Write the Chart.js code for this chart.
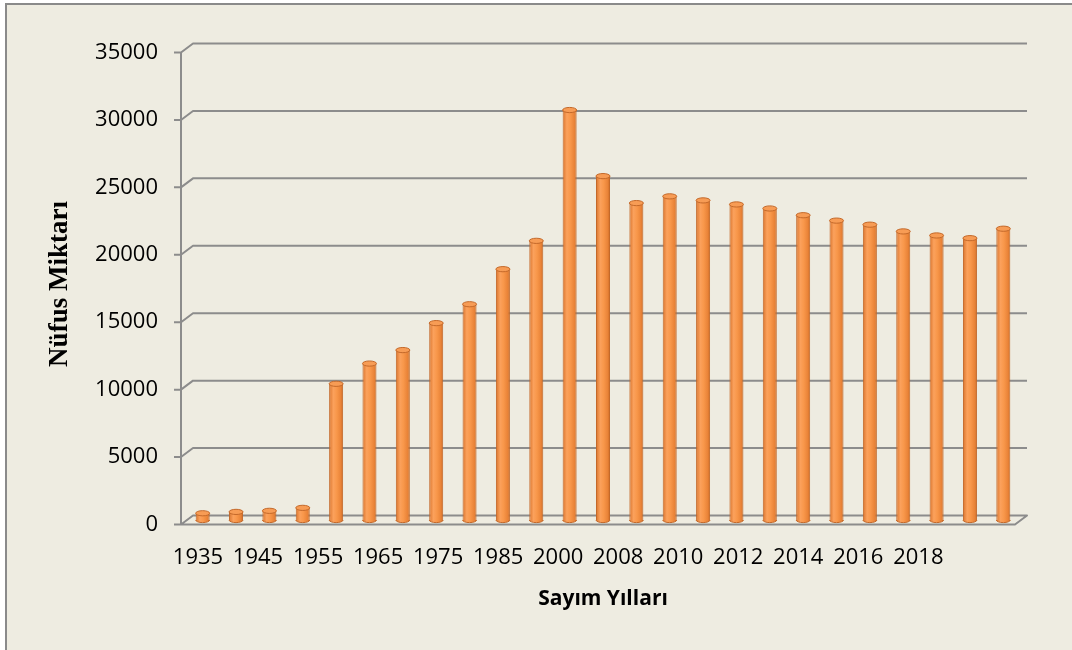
<!DOCTYPE html>
<html>
<head>
<meta charset="utf-8">
<script src="https://cdn.jsdelivr.net/npm/chart.js@4/dist/chart.umd.min.js"></script>
<style>
  html, body { margin: 0; padding: 0; background: #ffffff; }
  #wrap { width: 1072px; height: 650px; }
</style>
</head>
<body>
<div id="wrap"><canvas id="c" width="1072" height="650"></canvas></div>
<script>
// ---- data ----
const categories = ['1935','1940','1945','1950','1955','1960','1965','1970','1975','1980','1985','1990','2000',
                    '2007','2008','2009','2010','2011','2012','2013','2014','2015','2016','2017','2018'];
const populationValues = [500, 600, 680, 900, 10100, 11600, 12600, 14600, 16000, 18600, 20700, 30400, 25500,
                          23500, 24000, 23700, 23400, 23100, 22600, 22200, 21900, 21400, 21100, 20900, 21600];
const xTickLabels = ['1935','1945','1955','1965','1975','1985','2000','2008','2010','2012','2014','2016','2018'];
const yTickValues = [0, 5000, 10000, 15000, 20000, 25000, 30000, 35000];
const xTitle = 'Sayım Yılları';
const yTitle = 'Nüfus Miktarı';

const DEPTH_X = 6, DEPTH_Y = 4.5;
const GRID_COLOR = '#8c8c8c';

function makeGradient(ctx, x, half) {
  const g = ctx.createLinearGradient(x - half, 0, x + half, 0);
  g.addColorStop(0, '#D8732C');
  g.addColorStop(0.3, '#FBA15C');
  g.addColorStop(0.55, '#F8974A');
  g.addColorStop(0.85, '#E88237');
  g.addColorStop(1, '#C46620');
  return g;
}

function barGradient(context) {
  const chart = context.chart;
  if (!chart.chartArea || context.type !== 'data') return '#F79646';
  const xs = chart.scales.x;
  const x = xs.getPixelForValue(context.dataIndex);
  const w = xs.getPixelForValue(1) - xs.getPixelForValue(0);
  return makeGradient(chart.ctx, x, w * 0.42 / 2);
}

const bgPlugin = {
  id: 'bg',
  beforeDraw(chart) {
    const ctx = chart.ctx;
    ctx.save();
    ctx.fillStyle = '#ffffff';
    ctx.fillRect(0, 0, chart.width, chart.height);
    ctx.fillStyle = '#EEECE1';
    ctx.fillRect(6, 4, chart.width - 6, chart.height - 4);
    ctx.strokeStyle = '#8a8a8a';
    ctx.lineWidth = 2;
    ctx.beginPath();
    ctx.moveTo(6, chart.height);
    ctx.lineTo(6, 4);
    ctx.lineTo(chart.width, 4);
    ctx.stroke();
    ctx.restore();
  }
};

const framePlugin = {
  id: 'frame3d',
  beforeDatasetsDraw(chart) {
    const ctx = chart.ctx;
    const ys = chart.scales.y;
    const a = chart.chartArea;
    const fx = a.left - 5, bx = a.left + DEPTH_X + 1, rx = a.right + DEPTH_X + 1, ffx = a.right - 5;
    ctx.save();
    ctx.strokeStyle = GRID_COLOR;
    ctx.lineWidth = 2;
    ctx.lineJoin = 'round';
    const top = ys.getPixelForValue(ys.max), zero = ys.getPixelForValue(0);
    ctx.beginPath();
    ctx.moveTo(fx, top + DEPTH_Y);
    ctx.lineTo(fx, zero + DEPTH_Y);
    ctx.stroke();
    ys.ticks.forEach(t => {
      const py = ys.getPixelForValue(t.value);
      ctx.beginPath();
      ctx.moveTo(fx - 7, py + DEPTH_Y);
      ctx.lineTo(fx, py + DEPTH_Y);
      ctx.lineTo(bx, py - DEPTH_Y);
      ctx.lineTo(rx, py - DEPTH_Y);
      if (t.value === 0) {
        ctx.lineTo(ffx, py + DEPTH_Y);
        ctx.lineTo(fx, py + DEPTH_Y);
      }
      ctx.stroke();
    });
    ctx.restore();
  },
  afterDatasetsDraw(chart) {
    const ctx = chart.ctx;
    const meta = chart.getDatasetMeta(0);
    ctx.save();
    meta.data.forEach((bar) => {
      const p = bar.getProps(['x', 'y', 'base', 'width'], true);
      const rxx = p.width / 2, ry = 2.6;
      ctx.beginPath();
      ctx.ellipse(p.x, p.base, rxx, ry, 0, 0, Math.PI);
      ctx.fillStyle = makeGradient(ctx, p.x, rxx);
      ctx.fill();
      ctx.strokeStyle = '#C4692A';
      ctx.lineWidth = 1;
      ctx.stroke();
      ctx.beginPath();
      ctx.ellipse(p.x, p.y, rxx, ry, 0, 0, Math.PI * 2);
      ctx.fillStyle = '#F79C55';
      ctx.fill();
      ctx.strokeStyle = '#C4692A';
      ctx.stroke();
    });
    ctx.restore();
  }
};

new Chart(document.getElementById('c'), {
  type: 'bar',
  data: {
    labels: categories,
    datasets: [{
      label: 'Nüfus',
      data: populationValues,
      xAxisID: 'x',
      yAxisID: 'y',
      backgroundColor: barGradient,
      borderColor: '#C4692A',
      borderWidth: { left: 1, right: 1, top: 0, bottom: 0 },
      borderSkipped: false,
      categoryPercentage: 1.0,
      barPercentage: 0.42
    }]
  },
  options: {
    responsive: false,
    animation: false,
    devicePixelRatio: 1,
    layout: { padding: { left: 30, right: 52, top: 48, bottom: 10 } },
    plugins: { legend: { display: false }, tooltip: { enabled: false } },
    scales: {
      x: {
        type: 'category',
        display: false,
        offset: true
      },
      x2: {
        type: 'linear',
        position: 'bottom',
        offset: false,
        min: -0.2,
        max: 13.694,
        bounds: 'data',
        grid: { display: false, drawTicks: false, offset: false },
        border: { display: false },
        afterBuildTicks: (axis) => { axis.ticks = xTickLabels.map((_, i) => ({ value: i })); },
        afterFit: (axis) => { axis.height = 120; },
        ticks: {
          autoSkip: false,
          maxRotation: 0,
          padding: 25,
          color: '#000000',
          font: { family: '"Open Sans"', size: 22 },
          callback: (v, i) => xTickLabels[i]
        },
        title: {
          display: true,
          text: xTitle,
          color: '#000000',
          font: { family: '"Open Sans"', size: 21, weight: 'bold' },
          padding: { top: 0, bottom: 28 }
        }
      },
      y: {
        type: 'linear',
        position: 'left',
        min: 0,
        max: 35000,
        grid: { display: false, drawTicks: false },
        border: { display: false },
        afterBuildTicks: (axis) => { axis.ticks = yTickValues.map(v => ({ value: v })); },
        afterFit: (axis) => { axis.width = 156; },
        ticks: {
          padding: 28,
          labelOffset: 4.5,
          color: '#000000',
          font: { family: '"Open Sans"', size: 22 },
          callback: (v) => String(v)
        },
        title: {
          display: true,
          text: yTitle,
          color: '#000000',
          font: { family: '"Liberation Serif"', size: 27, weight: 'bold' },
          padding: { top: 14, bottom: 0 }
        }
      }
    }
  },
  plugins: [bgPlugin, framePlugin]
});
</script>
</body>
</html>
